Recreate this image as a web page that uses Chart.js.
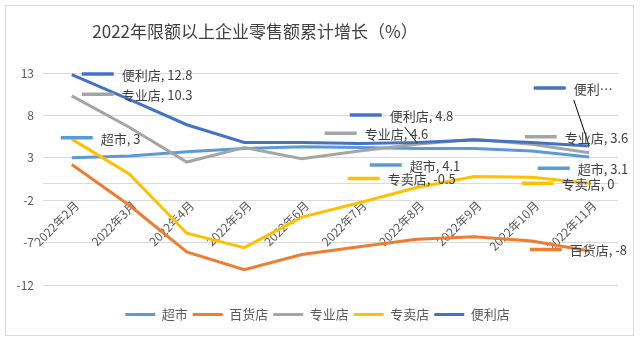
<!DOCTYPE html>
<html>
<head>
<meta charset="utf-8">
<title>2022年限额以上企业零售额累计增长</title>
<script src="https://cdn.jsdelivr.net/npm/chart.js@4/dist/chart.umd.min.js"></script>
<style>
  html, body { margin: 0; padding: 0; background: #fff; }
</style>
</head>
<body>
<canvas id="myChart" width="640" height="343"></canvas>
<script>
// months along the x axis
const months = ['2022年2月', '2022年3月', '2022年4月', '2022年5月', '2022年6月',
                '2022年7月', '2022年8月', '2022年9月', '2022年10月', '2022年11月'];

// cumulative growth (%) per store type
const supermarket = [3, 3.2, 3.7, 4.1, 4.3, 4.2, 4.1, 4.1, 3.8, 3.1];
const departmentStore = [2.2, -2.6, -8.1, -10.2, -8.4, -7.5, -6.6, -6.3, -6.8, -8];
const specialtyStore = [10.3, 6.6, 2.5, 4.2, 2.9, 3.8, 4.6, 5.2, 4.6, 3.6];
const exclusiveStore = [5.2, 1.1, -5.9, -7.6, -4.0, -2.3, -0.5, 0.8, 0.7, 0];
const convenienceStore = [12.8, 9.9, 6.9, 4.8, 4.8, 4.7, 4.8, 5.1, 4.8, 4.4];

const seriesNames = ['超市', '百货店', '专业店', '专卖店', '便利店'];
const seriesValues = [supermarket, departmentStore, specialtyStore, exclusiveStore, convenienceStore];
const seriesColors = ['#5b9bd5', '#ed7d31', '#a5a5a5', '#ffc000', '#4472c4'];

// y axis range and step (ticks: -12, -7, -2, 3, 8, 13)
const yMin = -12;
const yMax = 13;
const yStep = 5;

const chartTitle = '2022年限额以上企业零售额累计增长（%）';

// labels next to some points: series, month index, offset of the key line, optional text, leader line start
const pointLabels = [
  {series: 4, index: 0, dx: 10, dy: -0.7},
  {series: 2, index: 0, dx: 10, dy: -1.6},
  {series: 0, index: 0, dx: -11, dy: -20},
  {series: 4, index: 6, dx: -67, dy: -27.5, leader: [15, 12]},
  {series: 2, index: 6, dx: -92, dy: -11},
  {series: 0, index: 6, dx: -47, dy: 16.6},
  {series: 3, index: 6, dx: -69, dy: -9},
  {series: 4, index: 9, dx: -55.5, dy: -58, text: '便利…', leader: [0, 12]},
  {series: 2, index: 9, dx: -64.5, dy: -16},
  {series: 0, index: 9, dx: -51.5, dy: 11.4},
  {series: 3, index: 9, dx: -67.5, dy: 0},
  {series: 1, index: 9, dx: -59.5, dy: -1.7}
];

Chart.defaults.font.family = '"Noto Sans CJK SC", "Noto Sans", sans-serif';

// frame, title and the point labels are drawn by hand
const decorations = {
  id: 'decorations',
  beforeDraw(chart) {
    const ctx = chart.ctx;
    ctx.save();
    ctx.strokeStyle = '#d9d9d9';
    ctx.lineWidth = 1;
    ctx.strokeRect(5.5, 5.5, 628, 330);
    ctx.restore();
  },
  afterDatasetsDraw(chart) {
    const ctx = chart.ctx;
    ctx.save();
    ctx.font = '13px ' + Chart.defaults.font.family;
    ctx.textBaseline = 'middle';
    ctx.textAlign = 'left';
    pointLabels.forEach(l => {
      const pt = chart.getDatasetMeta(l.series).data[l.index];
      const x0 = pt.x + l.dx;
      const y0 = pt.y + l.dy;
      // short key line in the series colour
      ctx.strokeStyle = seriesColors[l.series];
      ctx.lineWidth = 3.5;
      ctx.beginPath();
      ctx.moveTo(x0, y0);
      ctx.lineTo(x0 + 32, y0);
      ctx.stroke();
      const text = l.text || (seriesNames[l.series] + ', ' + seriesValues[l.series][l.index]);
      ctx.fillStyle = '#404040';
      ctx.fillText(text, x0 + 40, y0 + 1);
      if (l.leader) {
        ctx.strokeStyle = '#000';
        ctx.lineWidth = 1;
        ctx.beginPath();
        ctx.moveTo(x0 + 40 + l.leader[0], y0 + l.leader[1]);
        ctx.lineTo(pt.x, pt.y);
        ctx.stroke();
      }
    });
    ctx.restore();
  },
  afterDraw(chart) {
    const ctx = chart.ctx;
    ctx.save();
    ctx.font = '17px ' + Chart.defaults.font.family;
    ctx.fillStyle = '#404040';
    ctx.textAlign = 'center';
    ctx.textBaseline = 'middle';
    ctx.fillText(chartTitle, 255, 32);
    ctx.restore();
  }
};

const myChart = document.getElementById('myChart');

let lineChart = new Chart(myChart, {
  type: 'line',
  data: {
    labels: months,
    datasets: seriesNames.map((name, i) => ({
      label: name,
      data: seriesValues[i],
      borderColor: seriesColors[i],
      backgroundColor: seriesColors[i],
      borderWidth: 3,
      pointRadius: 0,
      tension: 0,
      // later series sit on top
      order: seriesNames.length - i
    }))
  },
  options: {
    responsive: false,
    animation: false,
    devicePixelRatio: 1,
    layout: {
      padding: {top: 73, right: 22, bottom: 12, left: 17}
    },
    plugins: {
      title: {display: false},
      tooltip: {enabled: false},
      legend: {
        position: 'bottom',
        title: {display: true, text: '', font: {size: 10}, padding: 3},
        labels: {
          usePointStyle: true,
          pointStyle: 'line',
          pointStyleWidth: 30,
          padding: 5,
          color: '#595959',
          font: {size: 13},
          sort: (a, b) => a.datasetIndex - b.datasetIndex
        }
      }
    },
    scales: {
      x: {
        // category axis crosses at zero, points sit in the middle of each slot
        position: {y: 0},
        offset: true,
        grid: {drawOnChartArea: false, drawTicks: false, offset: true},
        border: {display: true, color: '#d9d9d9', width: 1},
        ticks: {
          autoSkip: false,
          minRotation: 45,
          maxRotation: 45,
          padding: 15,
          labelOffset: 5,
          color: '#595959',
          font: {size: 12}
        }
      },
      y: {
        min: yMin,
        max: yMax,
        grid: {color: '#d9d9d9', drawTicks: false},
        border: {display: false},
        ticks: {
          stepSize: yStep,
          padding: 9,
          color: '#595959',
          font: {size: 12}
        },
        afterFit(scale) {
          scale.width = 26;
        }
      }
    }
  },
  plugins: [decorations]
});
</script>
</body>
</html>
